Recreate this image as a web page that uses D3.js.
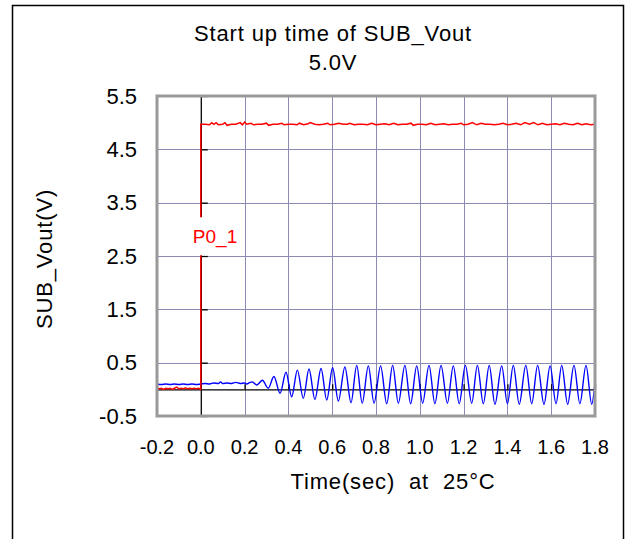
<!DOCTYPE html>
<html>
<head>
<meta charset="utf-8">
<script src="https://cdn.jsdelivr.net/npm/d3@7"></script>
<style>
  html, body { margin: 0; padding: 0; background: #fff; }
  svg { display: block; font-family: "Liberation Sans", Arial, sans-serif; }
</style>
</head>
<body>
<svg id="chart" width="629" height="539"></svg>
<script>
// ---- data ----
const titleLines = ["Start up time of SUB_Vout", "5.0V"];
const xLabel = "Time(sec)  at  25°C";
const yLabel = "SUB_Vout(V)";
const xTicks = [-0.2, 0.0, 0.2, 0.4, 0.6, 0.8, 1.0, 1.2, 1.4, 1.6, 1.8];
const yTicks = [-0.5, 0.5, 1.5, 2.5, 3.5, 4.5, 5.5];
const seriesLabel = "P0_1";

// red trace P0_1 (time s, volts)
const redTrace = [
  [-0.20,0.02],[-0.19,0.01],[-0.18,0.02],[-0.17,0.00],[-0.16,0.02],[-0.15,0.01],[-0.14,0.02],
  [-0.13,0.00],[-0.12,0.02],[-0.11,0.04],[-0.10,0.01],[-0.09,0.02],[-0.08,0.01],[-0.07,0.03],
  [-0.06,0.01],[-0.05,0.02],[-0.04,0.01],[-0.03,0.02],[-0.02,0.01],[-0.01,0.02],[0.00,0.00],
  [0.00,4.97],[0.02,4.97],[0.04,4.96],[0.05,5.00],[0.06,4.97],[0.07,5.00],[0.08,4.96],[0.10,4.97],
  [0.11,5.00],[0.12,4.95],[0.14,4.97],[0.16,4.97],[0.18,5.00],[0.19,4.96],[0.20,5.01],[0.21,4.97],
  [0.23,4.99],[0.24,4.96],[0.26,4.97],[0.28,4.97],[0.30,4.99],[0.31,4.95],[0.33,4.97],[0.35,4.97],
  [0.37,4.99],[0.38,4.96],[0.40,4.97],[0.42,4.97],[0.44,4.96],[0.45,4.99],[0.47,4.96],[0.49,4.98],
  [0.50,5.00],[0.52,4.97],[0.54,4.96],[0.56,4.97],[0.58,4.99],[0.59,4.96],[0.61,4.97],[0.63,4.99],
  [0.65,4.97],[0.67,4.97],[0.68,4.99],[0.70,4.96],[0.72,4.97],[0.74,4.97],[0.76,4.96],[0.78,4.99],
  [0.80,4.96],[0.82,4.97],[0.84,4.98],[0.86,4.96],[0.88,4.99],[0.90,4.96],[0.92,4.97],[0.94,4.97],
  [0.96,4.99],[0.97,4.95],[0.99,4.97],[1.01,4.97],[1.03,4.96],[1.05,4.99],[1.07,4.96],[1.09,4.97],
  [1.11,4.98],[1.13,4.96],[1.15,4.97],[1.17,4.97],[1.19,4.99],[1.20,4.96],[1.22,4.97],[1.24,5.00],
  [1.26,4.96],[1.28,4.99],[1.30,4.97],[1.32,4.97],[1.34,4.96],[1.36,4.97],[1.38,4.99],[1.40,4.96],
  [1.42,4.97],[1.44,4.99],[1.46,4.96],[1.48,5.00],[1.50,4.97],[1.52,5.00],[1.54,4.96],[1.56,4.99],
  [1.58,4.96],[1.60,4.97],[1.62,4.98],[1.64,4.96],[1.66,4.99],[1.68,4.97],[1.70,4.96],[1.72,4.99],
  [1.74,4.96],[1.76,4.98],[1.78,4.96],[1.80,4.97]
];

// blue trace SUB_Vout (time s, volts): flat start, then peaks / troughs of the ringing
const blueTrace = [
  [-0.20,0.10],[-0.18,0.09],[-0.16,0.10],[-0.14,0.09],[-0.12,0.10],[-0.10,0.09],[-0.08,0.10],
  [-0.06,0.09],[-0.04,0.10],[-0.02,0.09],[0.00,0.10],[0.02,0.11],[0.04,0.10],[0.06,0.12],
  [0.08,0.11],[0.09,0.14],[0.10,0.11],[0.12,0.12],[0.14,0.11],[0.16,0.13],[0.18,0.11],[0.20,0.12],
  [0.21,0.10],[0.225,0.13],[0.235,0.14],[0.245,0.11],[0.255,0.08],[0.265,0.11],
  [0.281,0.17],[0.308,0.02],[0.334,0.24],[0.362,-0.075],[0.389,0.32],[0.415,-0.14],
  [0.441,0.36],[0.468,-0.17],[0.494,0.38],[0.521,-0.19],[0.549,0.39],[0.575,-0.20],
  [0.602,0.405],[0.628,-0.22],[0.658,0.42],[0.686,-0.25],[0.712,0.45],[0.737,-0.26],
  [0.765,0.44],[0.791,-0.26],[0.821,0.44],[0.849,-0.27],[0.876,0.45],[0.902,-0.26],
  [0.932,0.45],[0.958,-0.27],[0.986,0.44],[1.013,-0.26],[1.042,0.45],[1.069,-0.27],
  [1.097,0.45],[1.126,-0.26],[1.153,0.44],[1.180,-0.27],[1.208,0.45],[1.237,-0.26],
  [1.263,0.45],[1.290,-0.27],[1.317,0.45],[1.343,-0.28],[1.374,0.44],[1.400,-0.27],
  [1.427,0.45],[1.454,-0.28],[1.484,0.45],[1.511,-0.27],[1.538,0.45],[1.567,-0.28],
  [1.595,0.44],[1.622,-0.27],[1.648,0.45],[1.675,-0.28],[1.704,0.45],[1.731,-0.27],
  [1.759,0.45],[1.785,-0.28],[1.80,0.12]
];

// ---- drawing ----
const svg = d3.select("#chart");
const FONT = "'Liberation Sans', Arial, sans-serif";
const fmt = d => d3.format(".1f")(d).replace("\u2212", "-");

// outer frame
svg.append("rect").attr("x", 12.5).attr("y", 5.5).attr("width", 611).attr("height", 560)
  .attr("fill", "none").attr("stroke", "#000").attr("stroke-width", 1.5);

const x = d3.scaleLinear().domain([-0.2, 1.8]).range([157, 595]);
const y = d3.scaleLinear().domain([-0.5, 5.5]).range([416, 96]);

// plot background
svg.append("rect").attr("x", x(-0.2)).attr("y", y(5.5))
  .attr("width", x(1.8) - x(-0.2)).attr("height", y(-0.5) - y(5.5)).attr("fill", "#fff");

// grid
const gridColor = "#8a8ab2";
svg.append("g").selectAll("line").data(xTicks.filter(d => d > 0.01 && d < 1.79)).join("line")
  .attr("x1", d => Math.round(x(d)) + 0.5).attr("x2", d => Math.round(x(d)) + 0.5)
  .attr("y1", y(5.5)).attr("y2", y(-0.5))
  .attr("stroke", gridColor).attr("stroke-width", 1);
svg.append("g").selectAll("line").data(yTicks.filter(d => d > -0.4 && d < 5.4)).join("line")
  .attr("x1", x(-0.2)).attr("x2", x(1.8))
  .attr("y1", d => Math.round(y(d)) + 0.5).attr("y2", d => Math.round(y(d)) + 0.5)
  .attr("stroke", gridColor).attr("stroke-width", 1);

// axis lines through zero with D3 axes (labels drawn separately outside)
const yAxisG = svg.append("g").attr("transform", `translate(${x(0)},0)`)
  .call(d3.axisRight(y).tickValues(yTicks).tickSize(7).tickSizeOuter(0).tickFormat(""));
yAxisG.select(".domain").attr("stroke", "#000").attr("stroke-width", 1.3);
yAxisG.selectAll(".tick line").attr("stroke", "#000").attr("stroke-width", 1.3);

const xAxisG = svg.append("g").attr("transform", `translate(0,${y(0)})`)
  .call(d3.axisTop(x).tickValues(xTicks).tickSize(5).tickSizeOuter(0).tickFormat(""));
xAxisG.select(".domain").attr("stroke", "#000").attr("stroke-width", 1.3);
xAxisG.selectAll(".tick line").attr("stroke", "#000").attr("stroke-width", 1.3);

// traces
svg.append("path").datum(blueTrace)
  .attr("d", d3.line().x(d => x(d[0])).y(d => y(d[1])).curve(d3.curveMonotoneX))
  .attr("fill", "none").attr("stroke", "#0000ff").attr("stroke-width", 1.4);
svg.append("path").datum(redTrace)
  .attr("d", d3.line().x(d => x(d[0])).y(d => y(d[1])))
  .attr("fill", "none").attr("stroke", "#ff0000").attr("stroke-width", 1.5);

// plot border
svg.append("rect").attr("x", x(-0.2)).attr("y", y(5.5))
  .attr("width", x(1.8) - x(-0.2)).attr("height", y(-0.5) - y(5.5))
  .attr("fill", "none").attr("stroke", "#9a9a9a").attr("stroke-width", 3);

// series label
const lblX = x(0.065), lblY = y(2.87);
svg.append("rect").attr("x", lblX - 24).attr("y", lblY - 19).attr("width", 48).attr("height", 38)
  .attr("fill", "#fff");
svg.append("text").attr("x", lblX).attr("y", lblY).attr("text-anchor", "middle")
  .attr("dominant-baseline", "central").attr("fill", "#ff0000")
  .style("font-size", "19px").style("font-family", FONT).text(seriesLabel);

// tick labels
svg.append("g").selectAll("text").data(yTicks).join("text")
  .attr("x", 137).attr("y", d => y(d)).attr("text-anchor", "end")
  .attr("dominant-baseline", "central").attr("fill", "#000")
  .style("font-size", "22px").style("font-family", FONT)
  .text(fmt);
svg.append("g").selectAll("text").data(xTicks).join("text")
  .attr("x", d => x(d)).attr("y", 454).attr("text-anchor", "middle").attr("fill", "#000")
  .style("font-size", "20px").style("font-family", FONT)
  .text(fmt);

// titles
svg.append("text").attr("x", 333).attr("y", 41).attr("text-anchor", "middle")
  .style("font-size", "22px").style("letter-spacing", "0.85px").style("font-family", FONT)
  .text(titleLines[0]);
svg.append("text").attr("x", 333).attr("y", 70).attr("text-anchor", "middle")
  .style("font-size", "22px").style("letter-spacing", "0.85px").style("font-family", FONT)
  .text(titleLines[1]);
svg.append("text").attr("x", 393).attr("y", 489).attr("text-anchor", "middle")
  .style("font-size", "22px").style("letter-spacing", "0.85px").style("font-family", FONT)
  .style("white-space", "pre").attr("xml:space", "preserve")
  .text(xLabel);
svg.append("text").attr("transform", "translate(52,259) rotate(-90)").attr("text-anchor", "middle")
  .style("font-size", "22px").style("letter-spacing", "0.85px").style("font-family", FONT)
  .text(yLabel);
</script>
</body>
</html>
